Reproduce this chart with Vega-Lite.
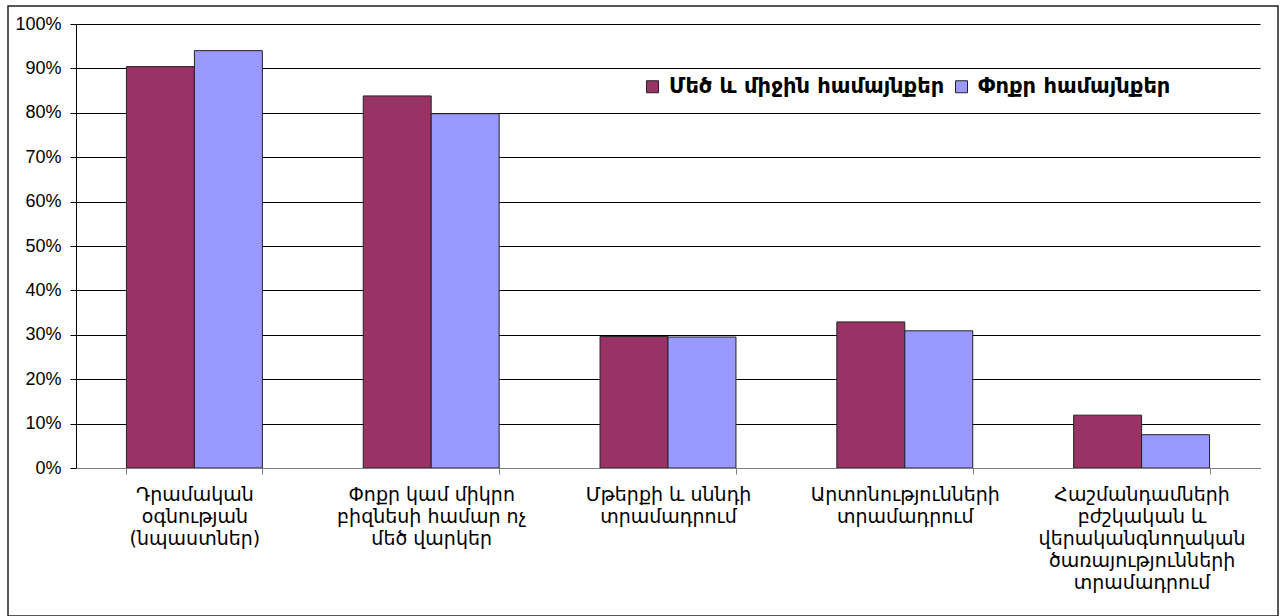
{
  "$schema": "https://vega.github.io/schema/vega-lite/v6.json",
  "width": 1270,
  "height": 610,
  "padding": {"left": 8, "top": 6, "right": 2, "bottom": 0},
  "autosize": {"type": "none"},
  "background": "white",
  "config": {
    "view": {"stroke": "#222", "strokeWidth": 1.5},
    "font": "Liberation Sans, DejaVu Sans"
  },
  "data": {
    "values": [
      {"category": "Դրամական|օգնության|(նպաստներ)", "group": "Մեծ և միջին համայնքեր", "value": 0.904},
      {"category": "Դրամական|օգնության|(նպաստներ)", "group": "Փոքր համայնքեր", "value": 0.940},
      {"category": "Փոքր կամ միկրո|բիզնեսի համար ոչ|մեծ վարկեր", "group": "Մեծ և միջին համայնքեր", "value": 0.838},
      {"category": "Փոքր կամ միկրո|բիզնեսի համար ոչ|մեծ վարկեր", "group": "Փոքր համայնքեր", "value": 0.798},
      {"category": "Մթերքի և սննդի|տրամադրում", "group": "Մեծ և միջին համայնքեր", "value": 0.296},
      {"category": "Մթերքի և սննդի|տրամադրում", "group": "Փոքր համայնքեր", "value": 0.295},
      {"category": "Արտոնությունների|տրամադրում", "group": "Մեծ և միջին համայնքեր", "value": 0.329},
      {"category": "Արտոնությունների|տրամադրում", "group": "Փոքր համայնքեր", "value": 0.309},
      {"category": "Հաշմանդամների|բժշկական և|վերականգնողական|ծառայությունների|տրամադրում", "group": "Մեծ և միջին համայնքեր", "value": 0.119},
      {"category": "Հաշմանդամների|բժշկական և|վերականգնողական|ծառայությունների|տրամադրում", "group": "Փոքր համայնքեր", "value": 0.075}
    ]
  },
  "mark": {"type": "bar", "stroke": "#222", "strokeWidth": 1},
  "encoding": {
    "x": {
      "field": "category",
      "type": "nominal",
      "sort": null,
      "scale": {"range": [68, 1252], "paddingInner": 0.426, "paddingOuter": 0.213},
      "axis": {
        "title": null,
        "orient": "bottom",
        "offset": -148,
        "labelAngle": 0,
        "tickBand": "extent",
        "domainColor": "#808080",
        "tickColor": "#808080",
        "tickSize": 6,
        "labelExpr": "split(datum.label, '|')",
        "labelFont": "DejaVu Sans",
        "labelFontSize": 19,
        "labelLineHeight": 22,
        "labelPadding": 11,
        "labelBaseline": "top",
        "labelColor": "#000",
        "labelLimit": 300,
        "zindex": 1
      }
    },
    "xOffset": {
      "field": "group",
      "sort": ["Մեծ և միջին համայնքեր", "Փոքր համայնքեր"],
      "scale": {"paddingInner": 0, "paddingOuter": 0}
    },
    "y": {
      "field": "value",
      "type": "quantitative",
      "scale": {"domain": [0, 1], "range": [462, 18], "nice": false},
      "axis": {
        "title": null,
        "format": ".0%",
        "offset": -68,
        "values": [0, 0.1, 0.2, 0.3, 0.4, 0.5, 0.6, 0.7, 0.8, 0.9, 1],
        "grid": true,
        "gridColor": "#000",
        "gridWidth": 1,
        "gridOpacity": 1,
        "domainColor": "#000",
        "tickColor": "#000",
        "tickSize": 6,
        "labelFont": "Liberation Sans",
        "labelFontSize": 18,
        "labelPadding": 9,
        "labelColor": "#000"
      }
    },
    "color": {
      "field": "group",
      "type": "nominal",
      "sort": ["Մեծ և միջին համայնքեր", "Փոքր համայնքեր"],
      "scale": {"domain": ["Մեծ և միջին համայնքեր", "Փոքր համայնքեր"], "range": ["#993366", "#9999FF"]},
      "legend": {
        "orient": "none",
        "legendX": 628,
        "legendY": 64,
        "direction": "horizontal",
        "title": null,
        "fillColor": "white",
        "padding": 6,
        "labelFont": "DejaVu Sans",
        "labelFontSize": 21,
        "labelFontWeight": "bold",
        "labelColor": "#000",
        "labelLimit": 400,
        "labelOffset": 6,
        "columnPadding": 6,
        "symbolType": "square",
        "symbolSize": 144,
        "symbolStrokeColor": "#222",
        "symbolStrokeWidth": 1,
        "symbolOpacity": 1
      }
    }
  }
}
